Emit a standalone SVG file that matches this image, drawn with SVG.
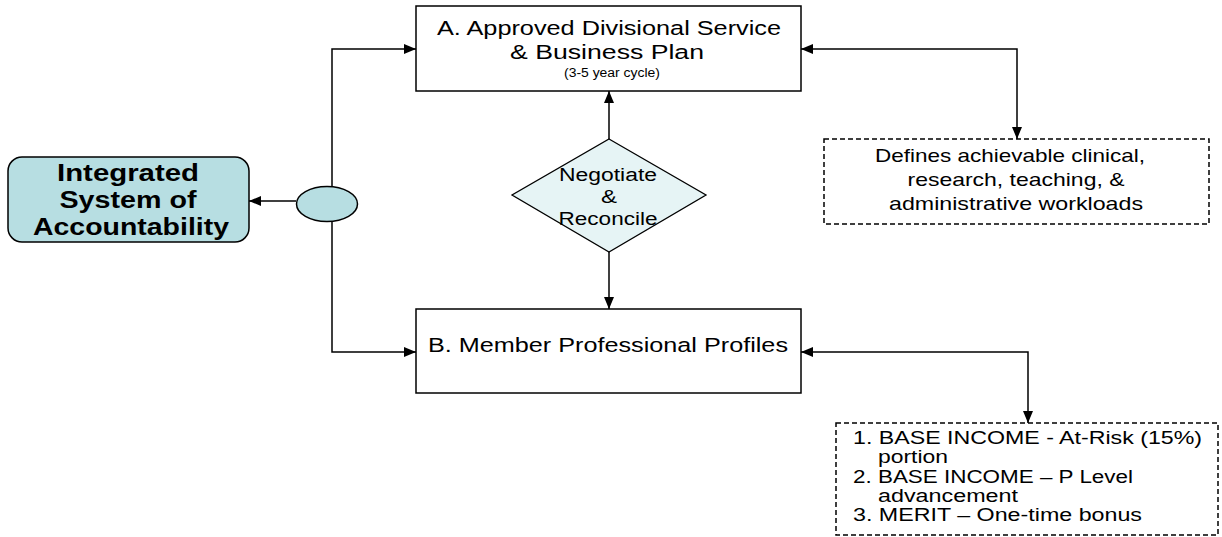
<svg xmlns="http://www.w3.org/2000/svg" width="1222" height="537" viewBox="0 0 1222 537">
  <defs>
    <marker id="arrow" viewBox="0 0 12 10" refX="12" refY="5" markerWidth="12" markerHeight="10" markerUnits="userSpaceOnUse" orient="auto-start-reverse">
      <path d="M0,0 L12,5 L0,10 Z" fill="#000"/>
    </marker>
    <style>
      .box { fill: #fff; stroke: #000; stroke-width: 1.5; }
      .dash { fill: #fff; stroke: #000; stroke-width: 1.5; stroke-dasharray: 5 3; }
      .teal { fill: #b7dee2; stroke: #000; stroke-width: 1.5; }
      .pale { fill: #e6f4f5; stroke: #000; stroke-width: 1.3; }
      .wire { fill: none; stroke: #000; stroke-width: 1.5; }
      .t { font-family: "Liberation Sans", Arial, sans-serif; fill: #000; }
      .c { text-anchor: middle; }
      .b { font-weight: bold; }
    </style>
  </defs>

  <!-- connectors -->
  <g id="connectors">
    <path class="wire" d="M416,49 H332 V352 H416" marker-start="url(#arrow)" marker-end="url(#arrow)"/>
    <path class="wire" d="M296,201 H249" marker-end="url(#arrow)"/>
    <path class="wire" d="M609,139 V91" marker-end="url(#arrow)"/>
    <path class="wire" d="M609,252 V309" marker-end="url(#arrow)"/>
    <path class="wire" d="M801,49 H1017 V139" marker-start="url(#arrow)" marker-end="url(#arrow)"/>
    <path class="wire" d="M801,352 H1028 V423" marker-start="url(#arrow)" marker-end="url(#arrow)"/>
  </g>

  <!-- integrated system -->
  <g id="node-integrated">
    <rect class="teal" x="8" y="157" width="241" height="85" rx="14"/>
    <text class="t c b" font-size="23.5" x="128" y="181" textLength="142" lengthAdjust="spacingAndGlyphs">Integrated</text>
    <text class="t c b" font-size="23.5" x="128" y="208" textLength="137" lengthAdjust="spacingAndGlyphs">System of</text>
    <text class="t c b" font-size="23.5" x="131" y="235" textLength="196" lengthAdjust="spacingAndGlyphs">Accountability</text>
  </g>

  <!-- junction ellipse -->
  <g id="node-junction">
    <ellipse class="teal" cx="327" cy="204" rx="30.5" ry="17.5"/>
  </g>

  <!-- A: service & business plan -->
  <g id="node-plan">
    <rect class="box" x="416" y="6" width="385" height="85"/>
    <text class="t c" font-size="20.5" x="609" y="35" textLength="344" lengthAdjust="spacingAndGlyphs">A. Approved Divisional Service</text>
    <text class="t c" font-size="20.5" x="607" y="59" textLength="194" lengthAdjust="spacingAndGlyphs">&amp; Business Plan</text>
    <text class="t c" font-size="12" x="612" y="77" textLength="96" lengthAdjust="spacingAndGlyphs">(3-5 year cycle)</text>
  </g>

  <!-- negotiate & reconcile -->
  <g id="node-negotiate">
    <polygon class="pale" points="609,139 706,195 609,252 512,195"/>
    <text class="t c" font-size="18" x="608" y="181" textLength="98" lengthAdjust="spacingAndGlyphs">Negotiate</text>
    <text class="t c" font-size="18" x="609" y="203" textLength="16" lengthAdjust="spacingAndGlyphs">&amp;</text>
    <text class="t c" font-size="18" x="608" y="225" textLength="99" lengthAdjust="spacingAndGlyphs">Reconcile</text>
  </g>

  <!-- B: member profiles -->
  <g id="node-profiles">
    <rect class="box" x="416" y="309" width="385" height="84"/>
    <text class="t c" font-size="20.5" x="608" y="352" textLength="360" lengthAdjust="spacingAndGlyphs">B. Member Professional Profiles</text>
  </g>

  <!-- workloads note -->
  <g id="node-workloads">
    <rect class="dash" x="824" y="139" width="385" height="85"/>
    <text class="t c" font-size="18.5" x="1010" y="162" textLength="270" lengthAdjust="spacingAndGlyphs">Defines achievable clinical,</text>
    <text class="t c" font-size="18.5" x="1016" y="186" textLength="217" lengthAdjust="spacingAndGlyphs">research, teaching, &amp;</text>
    <text class="t c" font-size="18.5" x="1016" y="210" textLength="254" lengthAdjust="spacingAndGlyphs">administrative workloads</text>
  </g>

  <!-- compensation note -->
  <g id="node-compensation">
    <rect class="dash" x="836" y="423" width="382" height="112"/>
    <text class="t" font-size="17.5" x="853" y="444" textLength="349" lengthAdjust="spacingAndGlyphs">1. BASE INCOME - At-Risk (15%)</text>
    <text class="t" font-size="17.5" x="878" y="463" textLength="70" lengthAdjust="spacingAndGlyphs">portion</text>
    <text class="t" font-size="17.5" x="853" y="483" textLength="280" lengthAdjust="spacingAndGlyphs">2. BASE INCOME – P Level</text>
    <text class="t" font-size="17.5" x="878" y="502" textLength="140" lengthAdjust="spacingAndGlyphs">advancement</text>
    <text class="t" font-size="17.5" x="853" y="521" textLength="289" lengthAdjust="spacingAndGlyphs">3. MERIT – One-time bonus</text>
  </g>
</svg>
